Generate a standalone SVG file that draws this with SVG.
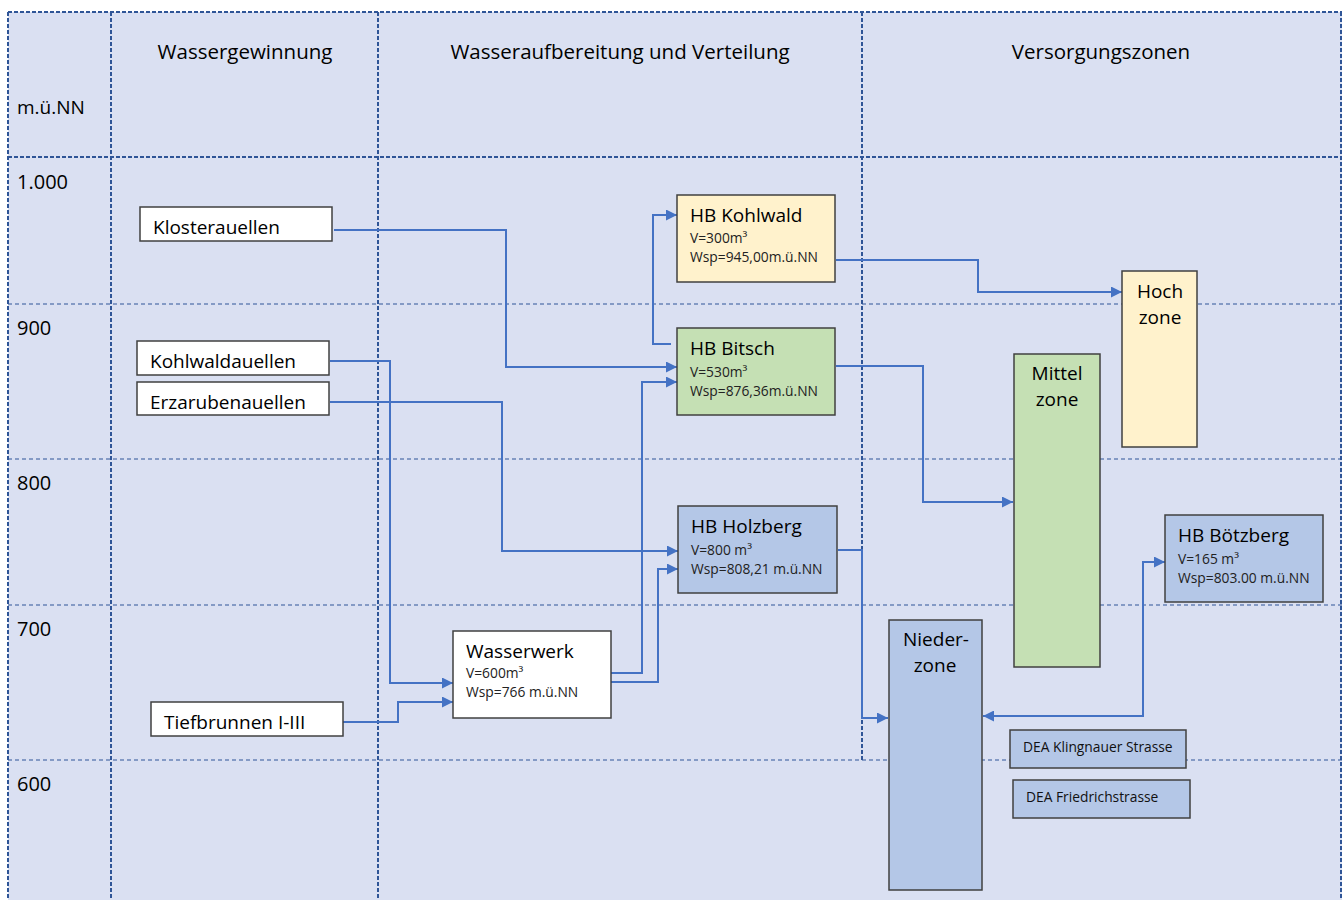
<svg xmlns="http://www.w3.org/2000/svg" width="1344" height="900" viewBox="0 0 1344 900">
<style>
.bg{fill:#DAE0F2}
.gh{stroke:#2F5597;stroke-width:1.2;stroke-dasharray:4 3;fill:none}
.ghb{stroke:#2F5597;stroke-width:2;stroke-dasharray:4 2;fill:none}
.gv{stroke:#2F5597;stroke-width:2;stroke-dasharray:4 2;fill:none}
.t{font-family:"Open Sans","Noto Sans",sans-serif;fill:#000}
.hd{font-size:20.5px}
.lb{font-size:19px}
.num{font-size:20px}
.nt{font-size:19px}
.sm{font-size:13.8px;fill:#222}
.box{stroke:#404040;stroke-width:1.5}
.w{fill:#fff}
.y{fill:#FFF2CC}
.g{fill:#C5E0B4}
.b{fill:#B4C7E7}
.c{stroke:#4472C4;stroke-width:2;fill:none}
</style>
<defs>
<marker id="ah" viewBox="0 0 10 10" refX="10" refY="5" markerWidth="12" markerHeight="11" markerUnits="userSpaceOnUse" orient="auto-start-reverse">
<path d="M0,0 L10,5 L0,10 z" fill="#4472C4"/>
</marker>
</defs>
<g id="background">
<rect class="bg" x="8" y="12" width="1334" height="888"/>
<line class="ghb" x1="8" y1="12" x2="1342" y2="12"/>
<line class="ghb" x1="8" y1="157" x2="1342" y2="157"/>
<line class="gh" x1="8" y1="304" x2="1342" y2="304"/>
<line class="gh" x1="8" y1="459" x2="1342" y2="459"/>
<line class="gh" x1="8" y1="605" x2="1342" y2="605"/>
<line class="gh" x1="8" y1="760" x2="1342" y2="760"/>
<line class="gv" x1="8" y1="12" x2="8" y2="900"/>
<line class="gv" x1="111" y1="12" x2="111" y2="900"/>
<line class="gv" x1="378" y1="12" x2="378" y2="900"/>
<line class="gv" x1="862" y1="12" x2="862" y2="760"/>
<line class="gv" x1="1341" y1="12" x2="1341" y2="900"/>
</g>
<g id="labels">
<text class="t hd" x="245" y="59" text-anchor="middle">Wassergewinnung</text>
<text class="t hd" x="620" y="59" text-anchor="middle">Wasseraufbereitung und Verteilung</text>
<text class="t hd" x="1101" y="59" text-anchor="middle">Versorgungszonen</text>
<text class="t lb" x="17" y="114">m.ü.NN</text>
<text class="t num" x="17" y="189">1.000</text>
<text class="t num" x="17" y="335">900</text>
<text class="t num" x="17" y="490">800</text>
<text class="t num" x="17" y="636">700</text>
<text class="t num" x="17" y="791">600</text>
</g>
<g id="connectors">
<polyline class="c" points="334,230 506,230 506,367 677,367" marker-end="url(#ah)"/>
<polyline class="c" points="671,344 653,344 653,215 677,215" marker-end="url(#ah)"/>
<polyline class="c" points="330,361 390,361 390,683 453,683" marker-end="url(#ah)"/>
<polyline class="c" points="330,402 502,402 502,551 678,551" marker-end="url(#ah)"/>
<polyline class="c" points="343,722 398,722 398,702 453,702" marker-end="url(#ah)"/>
<polyline class="c" points="611,673 642,673 642,382 677,382" marker-end="url(#ah)"/>
<polyline class="c" points="611,682 658,682 658,569 678,569" marker-end="url(#ah)"/>
<polyline class="c" points="836,260 978,260 978,292 1122,292" marker-end="url(#ah)"/>
<polyline class="c" points="836,366 923,366 923,502 1013,502" marker-end="url(#ah)"/>
<polyline class="c" points="838,550 862,550 862,718 888,718" marker-end="url(#ah)"/>
<polyline class="c" points="983,716 1143,716 1143,562 1165,562" marker-start="url(#ah)" marker-end="url(#ah)"/>
</g>
<g id="klosterquellen">
<rect class="box w" x="140" y="207" width="192" height="34"/>
<text class="t nt" x="153" y="234">Klosterauellen</text>
</g>
<g id="kohlwaldquellen">
<rect class="box w" x="137" y="341" width="192" height="34"/>
<text class="t nt" x="150" y="368">Kohlwaldauellen</text>
</g>
<g id="erzgrubenquellen">
<rect class="box w" x="137" y="382" width="192" height="33"/>
<text class="t nt" x="150" y="409">Erzarubenauellen</text>
</g>
<g id="tiefbrunnen">
<rect class="box w" x="151" y="702" width="192" height="34"/>
<text class="t nt" x="164" y="729">Tiefbrunnen I-III</text>
</g>
<g id="wasserwerk">
<rect class="box w" x="453" y="631" width="158" height="87"/>
<text class="t nt" x="466" y="658">Wasserwerk</text>
<text class="t sm" x="466" y="678">V=600m³</text>
<text class="t sm" x="466" y="697">Wsp=766 m.ü.NN</text>
</g>
<g id="hb-kohlwald">
<rect class="box y" x="677" y="195" width="158" height="87"/>
<text class="t nt" x="690" y="222">HB Kohlwald</text>
<text class="t sm" x="690" y="243">V=300m³</text>
<text class="t sm" x="690" y="262">Wsp=945,00m.ü.NN</text>
</g>
<g id="hb-bitsch">
<rect class="box g" x="677" y="328" width="158" height="87"/>
<text class="t nt" x="690" y="355">HB Bitsch</text>
<text class="t sm" x="690" y="377">V=530m³</text>
<text class="t sm" x="690" y="396">Wsp=876,36m.ü.NN</text>
</g>
<g id="hb-holzberg">
<rect class="box b" x="678" y="506" width="159" height="87"/>
<text class="t nt" x="691" y="533">HB Holzberg</text>
<text class="t sm" x="691" y="555">V=800 m³</text>
<text class="t sm" x="691" y="574">Wsp=808,21 m.ü.NN</text>
</g>
<g id="hb-boetzberg">
<rect class="box b" x="1165" y="515" width="158" height="87"/>
<text class="t nt" x="1178" y="542">HB Bötzberg</text>
<text class="t sm" x="1178" y="564">V=165 m³</text>
<text class="t sm" x="1178" y="583">Wsp=803.00 m.ü.NN</text>
</g>
<g id="hochzone">
<rect class="box y" x="1122" y="271" width="75" height="176"/>
<text class="t nt" x="1160" y="298" text-anchor="middle">Hoch</text>
<text class="t nt" x="1160" y="324" text-anchor="middle">zone</text>
</g>
<g id="mittelzone">
<rect class="box g" x="1014" y="354" width="86" height="313"/>
<text class="t nt" x="1057" y="380" text-anchor="middle">Mittel</text>
<text class="t nt" x="1057" y="406" text-anchor="middle">zone</text>
</g>
<g id="niederzone">
<rect class="box b" x="889" y="620" width="93" height="270"/>
<text class="t nt" x="936" y="646" text-anchor="middle">Nieder-</text>
<text class="t nt" x="935" y="672" text-anchor="middle">zone</text>
</g>
<g id="dea-klingnauer">
<rect class="box b" x="1010" y="730" width="176" height="38"/>
<text class="t sm" x="1023" y="752" style="fill:#111">DEA Klingnauer Strasse</text>
</g>
<g id="dea-friedrich">
<rect class="box b" x="1013" y="780" width="177" height="38"/>
<text class="t sm" x="1026" y="802" style="fill:#111">DEA Friedrichstrasse</text>
</g>
</svg>
